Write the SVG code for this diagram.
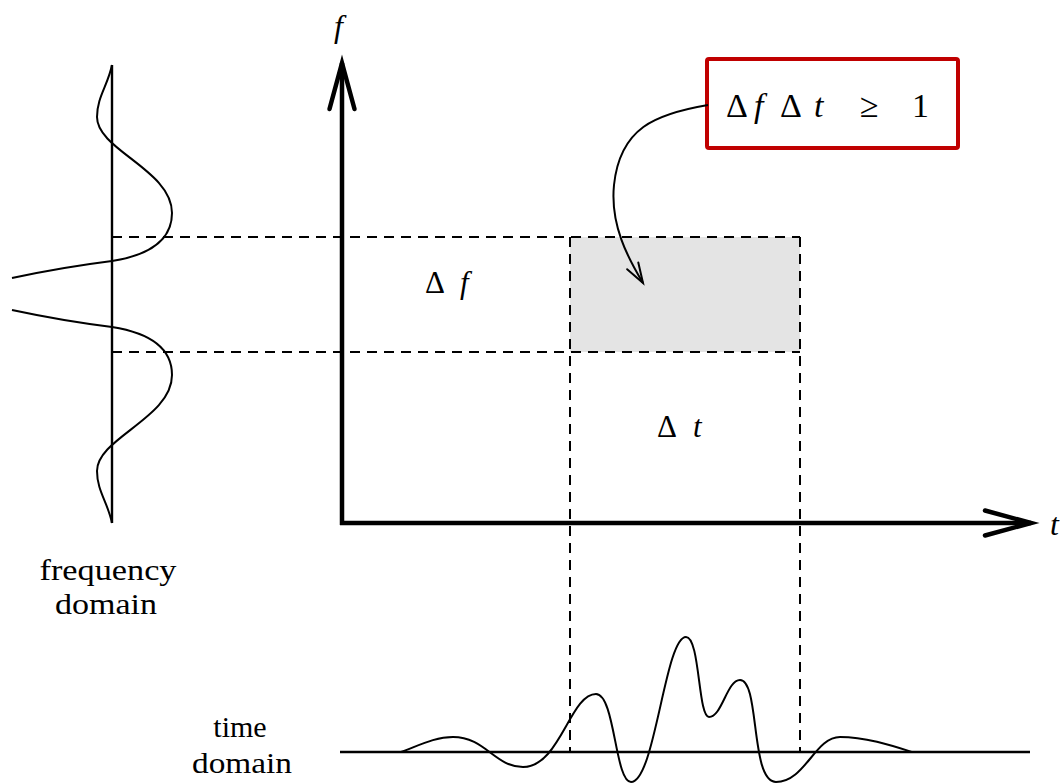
<svg xmlns="http://www.w3.org/2000/svg" width="1060" height="783" viewBox="0 0 1060 783">
<style>
text{font-family:"Liberation Serif","DejaVu Serif","Times New Roman",serif;fill:#000}
.it{font-style:italic}
.curve{fill:none;stroke:#000;stroke-width:2;stroke-linejoin:round}
.dash{fill:none;stroke:#000;stroke-width:2;stroke-dasharray:10 7}
.axis{fill:none;stroke:#000;stroke-width:4.5}
.thin{fill:none;stroke:#000;stroke-width:2.4}
</style>
<defs>
<marker id="bigArrow" markerUnits="userSpaceOnUse" markerWidth="60" markerHeight="40" refX="0" refY="0" orient="auto" overflow="visible">
<path d="M-46,-12.5 L0,0 L-46,12.5" fill="none" stroke="#000" stroke-width="4.5" stroke-linecap="round" stroke-linejoin="miter"/>
</marker>
<marker id="smallArrow" markerUnits="userSpaceOnUse" markerWidth="30" markerHeight="20" refX="0" refY="0" orient="auto" overflow="visible">
<path d="M-20,-6.5 L0,0 L-20,6.5" fill="none" stroke="#000" stroke-width="2" stroke-linecap="round"/>
</marker>
</defs>
<rect width="1060" height="783" fill="#fff"/>

<g id="shaded-region">
<rect x="570" y="237" width="230" height="115" fill="#e4e4e4"/>
</g>

<g id="guides">
<line class="dash" x1="112" y1="237" x2="800" y2="237"/>
<line class="dash" x1="112" y1="352" x2="800" y2="352"/>
<line class="dash" x1="570" y1="237" x2="570" y2="752"/>
<line class="dash" x1="800" y1="237" x2="800" y2="752"/>
</g>

<g id="frequency-domain">
<line class="thin" x1="112" y1="65" x2="112" y2="523"/>
<path class="curve" d="M112,65 C108,85 97,97 97,117 C97,150 172,170 172,213 C172,240 150,255 112,261 C80,265 40,272 12,278"/>
<path class="curve" d="M12,310 C40,316 80,323 112,327 C150,333 172,348 172,375 C172,418 97,438 97,471 C97,491 108,503 112,523"/>
<text font-family="Liberation Serif, DejaVu Serif, serif" x="108" y="580" font-size="30" text-anchor="middle" textLength="137" lengthAdjust="spacingAndGlyphs">frequency</text>
<text font-family="Liberation Serif, DejaVu Serif, serif" x="106" y="614" font-size="30" text-anchor="middle" textLength="102" lengthAdjust="spacingAndGlyphs">domain</text>
</g>

<g id="time-domain">
<line class="thin" x1="340" y1="752" x2="1030" y2="752"/>
<path class="curve" d="M401,752 C420,745 435,737 453,737 C485,737 495,767 523,767 C560,767 570,694 596,694 C615,694 615,782 631,782 C655,782 665,637 686,637 C700,637 698,717 709,717 C722,717 727,680 740,680 C760,680 750,782 776,782 C805,782 815,737 840,737 C865,737 890,745 912,752"/>
<text font-family="Liberation Serif, DejaVu Serif, serif" x="240" y="737" font-size="30" text-anchor="middle">time</text>
<text font-family="Liberation Serif, DejaVu Serif, serif" x="242" y="773" font-size="30" text-anchor="middle" textLength="100" lengthAdjust="spacingAndGlyphs">domain</text>
</g>

<g id="axes">
<line class="axis" x1="342" y1="525" x2="342" y2="63" marker-end="url(#bigArrow)"/>
<line class="axis" x1="340" y1="523" x2="1031" y2="523" marker-end="url(#bigArrow)"/>
<text class="it" font-family="Liberation Serif, DejaVu Serif, serif" x="334" y="37" font-size="32">f</text>
<text class="it" font-family="Liberation Serif, DejaVu Serif, serif" x="1050" y="535" font-size="32">t</text>
</g>

<g id="labels">
<text font-family="Liberation Serif, DejaVu Serif, serif" y="293" font-size="31"><tspan x="425">Δ</tspan><tspan x="460" class="it">f</tspan></text>
<text font-family="Liberation Serif, DejaVu Serif, serif" y="437" font-size="31"><tspan x="657">Δ</tspan><tspan x="693" class="it">t</tspan></text>
</g>

<g id="uncertainty-box">
<rect x="707" y="59" width="251" height="89" rx="2" fill="#fff" stroke="#c00000" stroke-width="4"/>
<text font-family="Liberation Serif, DejaVu Serif, serif" y="117" font-size="34"><tspan x="726">Δ</tspan><tspan x="754" class="it">f</tspan><tspan x="780">Δ</tspan><tspan x="814" class="it">t</tspan><tspan x="860">≥</tspan><tspan x="912">1</tspan></text>
</g>

<g id="connectors">
<path class="curve" d="M708,105 C655,114 620,128 614,185 C610,225 628,258 643,283" marker-end="url(#smallArrow)"/>
</g>
</svg>
